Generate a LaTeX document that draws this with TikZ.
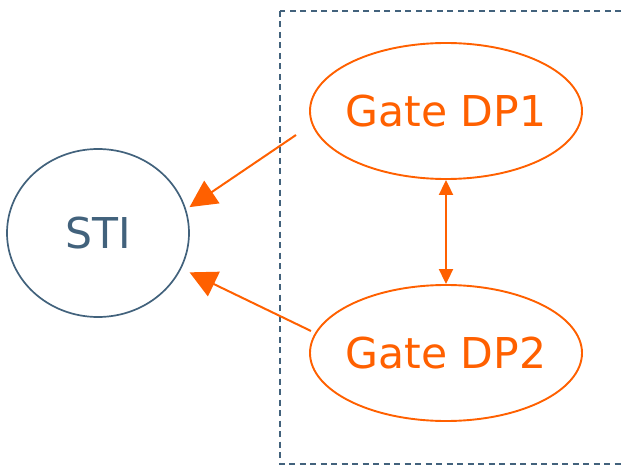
\documentclass[tikz,border=0pt]{standalone}
\usepackage{fontspec}
\setmainfont{DejaVu Sans}
\usetikzlibrary{shapes.geometric,arrows.meta}
\definecolor{slate}{RGB}{66,98,124}
\definecolor{gateorange}{RGB}{255,96,0}
\tikzset{
  every node/.style={font=\fontsize{42.5}{50}\selectfont},
  stinode/.style={ellipse, draw=slate, line width=1.7pt, text=slate,
    minimum width=182pt, minimum height=168pt, inner sep=0pt},
  gatenode/.style={ellipse, draw=gateorange, line width=1.9pt, text=gateorange,
    minimum width=272pt, minimum height=136pt, inner ysep=0pt, inner xsep=-12pt},
  clusterbox/.style={draw=slate, line width=1.8pt, dash pattern=on 6pt off 4.5pt},
  bigarrow/.style={draw=gateorange, line width=2pt,
    -{Triangle[length=27pt,width=27pt]}},
  linkarrow/.style={draw=gateorange, line width=2pt,
    {Triangle[length=15pt,width=14pt]}-{Triangle[length=15pt,width=14pt]}},
}
\begin{document}
\begin{tikzpicture}[x=1pt,y=-1pt]
  \useasboundingbox (0,0) rectangle (624,468);
  \clip (0,0) rectangle (624,468);
  % dashed cluster frame around the two gates
  \draw[clusterbox] (280,11) rectangle (680,464);
  % nodes
  \node[stinode] (STI) at (98,233) {STI};
  \node[gatenode] (DP1) at (446,111) {Gate DP1};
  \node[gatenode] (DP2) at (446,353) {Gate DP2};
  % arrow origins inside the frame
  \coordinate (o1) at (296,135);
  \coordinate (o2) at (311,331);
  % connectors
  \draw[bigarrow, shorten >=4pt] (o1) -- (STI.15);
  \draw[bigarrow, shorten >=9pt] (o2) -- (STI.-23);
  \draw[linkarrow] (DP1.south) -- (DP2.north);
\end{tikzpicture}
\end{document}
